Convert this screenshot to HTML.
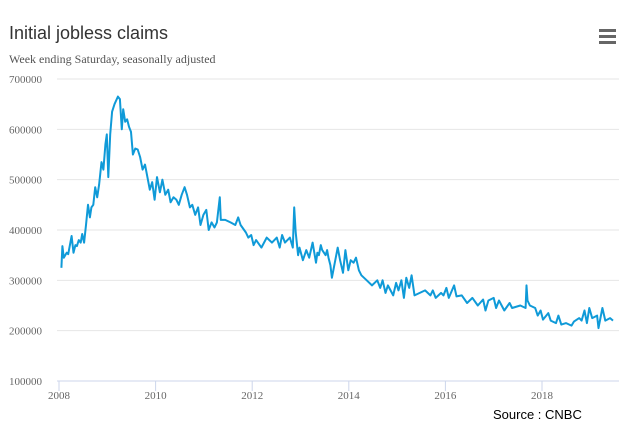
<!DOCTYPE html>
<html><head><meta charset="utf-8"><style>
body{margin:0;background:#fff;width:634px;height:430px;overflow:hidden;position:relative;font-family:"Liberation Sans",sans-serif}
#title{position:absolute;left:9px;top:23px;font-size:18px;color:#333}
#sub{position:absolute;left:9px;top:52px;font-family:"Liberation Serif",serif;font-size:12px;color:#555}
#menu{position:absolute;left:599px;top:29px;width:17px;height:15px}
#menu div{height:3px;background:#666;margin-bottom:3px}
#src{position:absolute;left:493px;top:407px;font-size:13px;color:#000}
svg{position:absolute;left:0;top:0}
</style></head><body>
<div id="title">Initial jobless claims</div>
<div id="sub">Week ending Saturday, seasonally adjusted</div>
<div id="menu"><div></div><div></div><div></div></div>
<div id="src">Source : CNBC</div>
<svg id="chart" width="634" height="430"></svg>
<script>
const yTicks=[100000,200000,300000,400000,500000,600000,700000];
const xTicks=[2008,2010,2012,2014,2016,2018];
const dates=[2008.05,2008.07,2008.10,2008.16,2008.19,2008.23,2008.26,2008.30,2008.34,2008.37,2008.41,2008.45,2008.48,2008.52,2008.56,2008.60,
2008.64,2008.67,2008.71,2008.75,2008.79,2008.83,2008.88,2008.92,2008.96,2008.99,2009.02,2009.06,2009.10,2009.15,2009.22,2009.26,2009.30,2009.33,2009.37,2009.41,2009.45,2009.49,2009.53,
2009.58,2009.63,2009.68,2009.73,2009.78,2009.83,2009.88,2009.93,2009.98,2010.03,
2010.09,2010.14,2010.20,2010.26,2010.31,2010.37,2010.43,2010.48,2010.54,2010.60,2010.65,2010.71,2010.76,2010.82,2010.88,2010.93,2010.99,2011.05,2011.10,2011.16,2011.22,2011.27,2011.33,
2011.35,2011.44,2011.55,2011.65,2011.71,2011.76,2011.87,2011.92,2011.98,2012.03,2012.08,2012.19,2012.30,2012.41,2012.51,2012.57,2012.62,2012.68,2012.78,2012.84,2012.87,
2012.90,2012.95,2012.98,2013.05,2013.12,2013.18,2013.25,2013.32,2013.35,2013.38,2013.42,2013.45,2013.52,2013.55,2013.58,2013.62,2013.65,
2013.77,2013.82,2013.88,2013.93,2013.99,2014.04,2014.10,2014.15,2014.21,2014.26,2014.37,2014.48,2014.59,2014.65,2014.70,2014.76,2014.81,2014.92,2014.98,2015.03,2015.09,2015.14,2015.19,2015.25,2015.30,2015.36,2015.47,2015.58,2015.69,2015.74,2015.80,2015.91,2015.96,2016.02,2016.07,2016.18,2016.23,2016.34,2016.45,2016.56,2016.67,2016.78,2016.83,2016.89,2017.00,2017.05,2017.11,2017.22,2017.33,2017.38,2017.55,2017.66,2017.68,
2017.70,2017.75,2017.86,2017.91,2017.97,2018.02,2018.13,2018.18,2018.29,2018.34,2018.40,2018.50,2018.61,2018.66,2018.77,2018.82,2018.88,2018.93,2018.98,2019.04,2019.14,2019.17,2019.25,2019.31,2019.41,2019.47];
const claims=[325,368,345,355,352,372,388,355,370,368,380,375,392,375,410,450,425,445,450,485,465,490,535,520,570,590,505,590,635,650,665,660,600,640,615,620,605,595,550,562,560,545,520,530,505,480,495,460,505,475,500,470,480,455,465,460,450,470,485,470,445,450,430,445,410,430,440,400,415,405,415,465,420,420,415,410,425,410,395,385,390,370,380,365,385,375,385,365,390,375,385,365,445,395,350,365,340,360,345,375,335,355,350,370,360,350,360,345,330,305,365,340,315,360,320,340,335,345,320,310,300,290,300,285,300,275,290,270,295,280,300,265,305,285,310,270,275,280,270,280,265,275,270,285,265,290,268,270,255,265,250,262,240,260,265,245,260,240,255,245,250,245,290,260,250,245,230,240,222,235,220,215,230,212,215,210,218,225,220,240,215,245,225,230,205,245,220,225,220];
const NS="http://www.w3.org/2000/svg";
const svg=document.getElementById('chart');
const x=v=>59+(v-2008)*48.3;
const y=v=>381-(v-100000)/600000*302;
function mk(t,a){const e=document.createElementNS(NS,t);for(const k in a)e.setAttribute(k,a[k]);svg.appendChild(e);return e;}
yTicks.forEach(t=>{
 const g=mk('line',{x1:57,x2:619,y1:y(t),y2:y(t),stroke:t===100000?'#ccd6eb':'#e6e6e6','stroke-width':1});
 
 
 const l=mk('text',{x:9,y:y(t)+4,'font-family':'Liberation Serif,serif','font-size':11,fill:'#666'});
 l.textContent=t;
 
 
});
xTicks.forEach(t=>{
 const k=mk('line',{x1:x(t),x2:x(t),y1:381,y2:391,stroke:'#ccd6eb'});
 
 
 const l=mk('text',{x:x(t),y:399,'text-anchor':'middle','font-family':'Liberation Serif,serif','font-size':11,fill:'#666'});
 l.textContent=t;
 
 
});
const d=dates.map((t,i)=>(i?'L':'M')+x(t).toFixed(1)+','+y(claims[i]*1000).toFixed(1)).join('');
const p=mk('path',{d:d,fill:'none',stroke:'#0f9ad8','stroke-width':2,'stroke-linejoin':'round'});


</script>
</body></html>
